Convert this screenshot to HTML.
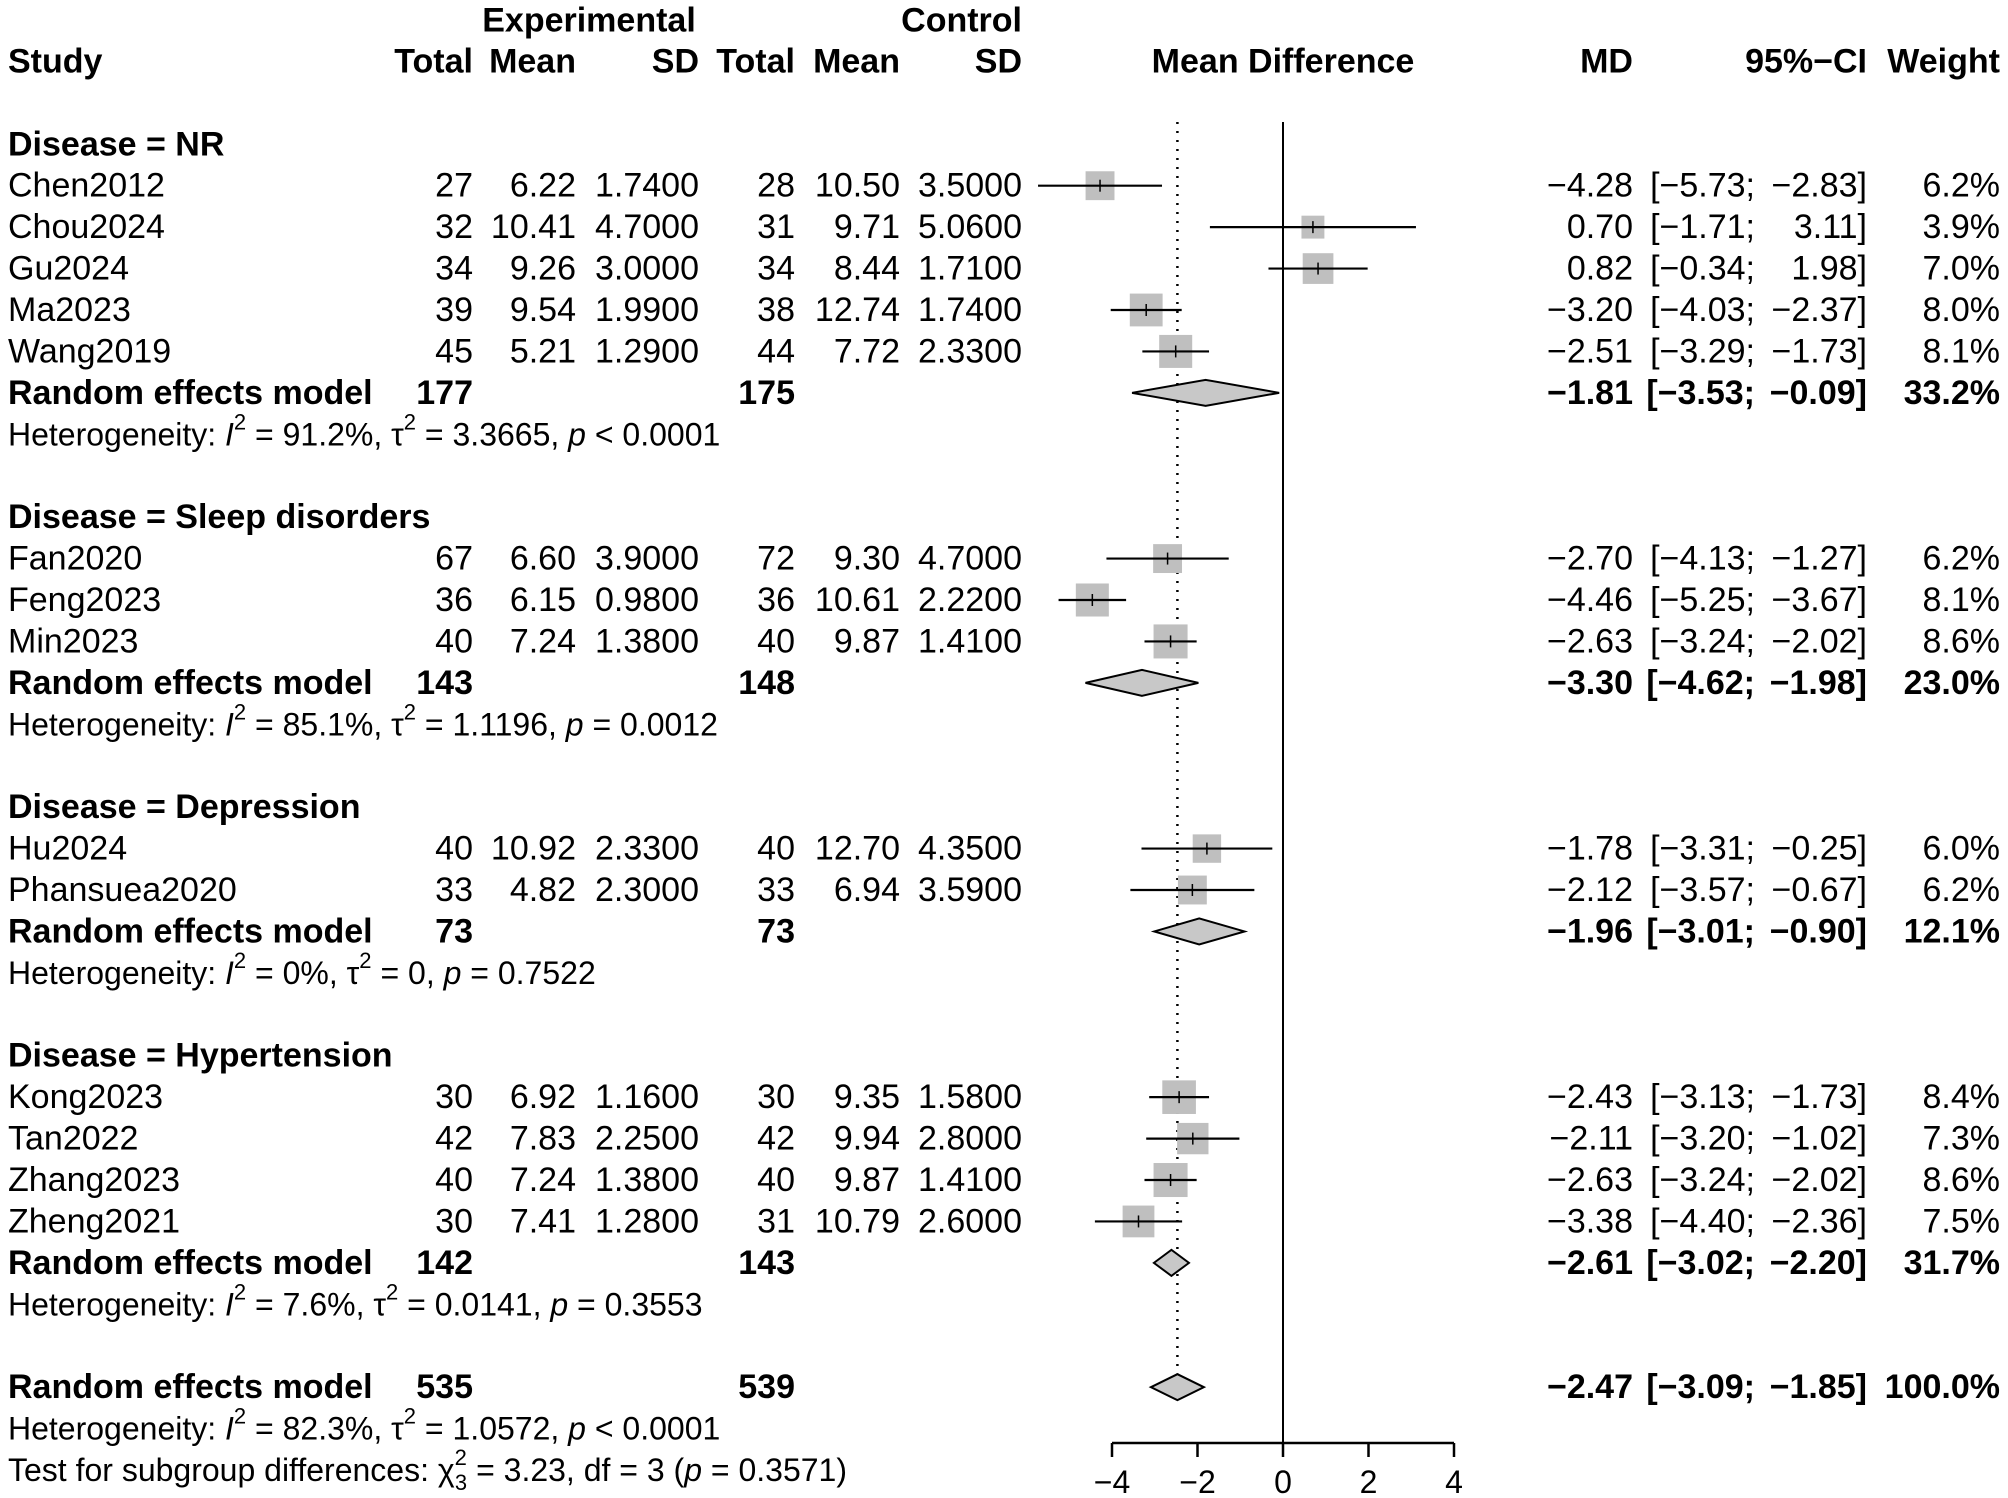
<!DOCTYPE html>
<html><head><meta charset="utf-8"><style>
html,body{margin:0;padding:0;background:#fff}
svg{display:block;font-family:"Liberation Sans",Arial,sans-serif}
</style></head><body>
<svg id="c" width="2008" height="1498" viewBox="0 0 2008 1498" xmlns="http://www.w3.org/2000/svg"></svg>
<script>
// ---- data ----
const studies = ["Chen2012","Chou2024","Gu2024","Ma2023","Wang2019","Fan2020","Feng2023","Min2023","Hu2024","Phansuea2020","Kong2023","Tan2022","Zhang2023","Zheng2021"];
const studyRow = [0,1,2,3,4,9,10,11,16,17,22,23,24,25];
const expTotal = [27,32,34,39,45,67,36,40,40,33,30,42,40,30];
const expMean = ["6.22","10.41","9.26","9.54","5.21","6.60","6.15","7.24","10.92","4.82","6.92","7.83","7.24","7.41"];
const expSD = ["1.7400","4.7000","3.0000","1.9900","1.2900","3.9000","0.9800","1.3800","2.3300","2.3000","1.1600","2.2500","1.3800","1.2800"];
const ctlTotal = [28,31,34,38,44,72,36,40,40,33,30,42,40,31];
const ctlMean = ["10.50","9.71","8.44","12.74","7.72","9.30","10.61","9.87","12.70","6.94","9.35","9.94","9.87","10.79"];
const ctlSD = ["3.5000","5.0600","1.7100","1.7400","2.3300","4.7000","2.2200","1.4100","4.3500","3.5900","1.5800","2.8000","1.4100","2.6000"];
const md = [-4.28,0.70,0.82,-3.20,-2.51,-2.70,-4.46,-2.63,-1.78,-2.12,-2.43,-2.11,-2.63,-3.38];
const lo = [-5.73,-1.71,-0.34,-4.03,-3.29,-4.13,-5.25,-3.24,-3.31,-3.57,-3.13,-3.20,-3.24,-4.40];
const hi = [-2.83,3.11,1.98,-2.37,-1.73,-1.27,-3.67,-2.02,-0.25,-0.67,-1.73,-1.02,-2.02,-2.36];
const weight = [6.2,3.9,7.0,8.0,8.1,6.2,8.1,8.6,6.0,6.2,8.4,7.3,8.6,7.5];

const groups = ["NR","Sleep disorders","Depression","Hypertension"];
const groupRow = [-1,8,15,21];
const remRow = [5,12,18,26,29];
const remExp = [177,143,73,142,535];
const remCtl = [175,148,73,143,539];
const remMd = [-1.81,-3.30,-1.96,-2.61,-2.47];
const remLo = [-3.53,-4.62,-3.01,-3.02,-3.09];
const remHi = [-0.09,-1.98,-0.90,-2.20,-1.85];
const remW = ["33.2%","23.0%","12.1%","31.7%","100.0%"];
const hetRow = [6,13,19,27,30];
const hetI2 = ["91.2%","85.1%","0%","7.6%","82.3%"];
const hetTau = ["3.3665","1.1196","0","0.0141","1.0572"];
const hetP = ["< 0.0001","= 0.0012","= 0.7522","= 0.3553","< 0.0001"];
const xTicks = [-4,-2,0,2,4];

// ---- layout ----
const svg = document.getElementById('c');
const NS = "http://www.w3.org/2000/svg";
const FS = 34;
const x0 = 1283, ux = 42.75;
const X = v => x0 + v*ux;
const Y = r => 185.7 + r*41.43;
const fmt = v => (v<0?"\u2212":"") + Math.abs(v).toFixed(2);

function el(tag, attrs){const e=document.createElementNS(NS,tag);for(const k in attrs)e.setAttribute(k,attrs[k]);svg.appendChild(e);return e;}
function txt(s,x,y,anchor,bold,name,size){
  const t=el('text',{x:x,y:y,'text-anchor':anchor||'start','dominant-baseline':'central','font-size':size||FS,'font-weight':bold?'bold':'normal',fill:'#000'});
  t.textContent=s;
  
  
  return t;
}
const cx = {tot1:473, mean1:576, sd1:699, tot2:795, mean2:900, sd2:1022, md:1633, ciL:1755, ciR:1867, w:2000};

// headers
txt("Experimental",589,20.5,'middle',true,'experimental-header');
txt("Control",1022,20.5,'end',true,'control-header');
const hy=61.5;
txt("Study",8,hy,'start',true,'study-header');
txt("Total",cx.tot1,hy,'end',true,'exp-total-header');
txt("Mean",cx.mean1,hy,'end',true,'exp-mean-header');
txt("SD",cx.sd1,hy,'end',true,'exp-sd-header');
txt("Total",cx.tot2,hy,'end',true,'ctl-total-header');
txt("Mean",cx.mean2,hy,'end',true,'ctl-mean-header');
txt("SD",cx.sd2,hy,'end',true,'ctl-sd-header');
txt("Mean Difference",1283,hy,'middle',true,'mean-difference-header');
txt("MD",cx.md,hy,'end',true,'md-header');
txt("95%\u2212CI",cx.ciR,hy,'end',true,'ci-header');
txt("Weight",cx.w,hy,'end',true,'weight-header');

// reference lines
const topY = 122;
const axY = 1443;
const zl = el('line',{x1:X(0),x2:X(0),y1:topY,y2:axY,stroke:'#000','stroke-width':2});


const dl = el('line',{x1:X(remMd[4]),x2:X(remMd[4]),y1:topY,y2:Y(29)-14,stroke:'#000','stroke-width':2.5,'stroke-dasharray':'2 7'});



// groups
groups.forEach((g,i)=>{
  txt("Disease = "+g,8,Y(groupRow[i]),'start',true,'subgroup-header');
});

// studies
studies.forEach((s,i)=>{
  const y=Y(studyRow[i]);
  txt(s,8,y,'start',false,'study-name');
  txt(String(expTotal[i]),cx.tot1,y,'end',false,'exp-total');
  txt(expMean[i],cx.mean1,y,'end',false,'exp-mean');
  txt(expSD[i],cx.sd1,y,'end',false,'exp-sd');
  txt(String(ctlTotal[i]),cx.tot2,y,'end',false,'ctl-total');
  txt(ctlMean[i],cx.mean2,y,'end',false,'ctl-mean');
  txt(ctlSD[i],cx.sd2,y,'end',false,'ctl-sd');
  txt(fmt(md[i]),cx.md,y,'end',false,'md-value');
  txt("["+fmt(lo[i])+";",cx.ciL,y,'end',false,'ci-lower');
  txt(fmt(hi[i])+"]",cx.ciR,y,'end',false,'ci-upper');
  txt(weight[i].toFixed(1)+"%",cx.w,y,'end',false,'weight-value');
  const sz=11.6*Math.sqrt(weight[i]);
  const b=el('rect',{x:X(md[i])-sz/2,y:y-sz/2,width:sz,height:sz,fill:'#bfbfbf'});
  
  
  const l=el('line',{x1:X(lo[i]),x2:X(hi[i]),y1:y,y2:y,stroke:'#000','stroke-width':2.2});
  
  
  const t=el('line',{x1:X(md[i]),x2:X(md[i]),y1:y-6,y2:y+6,stroke:'#000','stroke-width':1.5});
  
  
});

// random effects rows
remRow.forEach((r,i)=>{
  const y=Y(r);
  txt("Random effects model",8,y,'start',true,'random-effects-label');
  txt(String(remExp[i]),cx.tot1,y,'end',true,'rem-exp-total');
  txt(String(remCtl[i]),cx.tot2,y,'end',true,'rem-ctl-total');
  txt(fmt(remMd[i]),cx.md,y,'end',true,'rem-md');
  txt("["+fmt(remLo[i])+";",cx.ciL,y,'end',true,'rem-ci-lower');
  txt(fmt(remHi[i])+"]",cx.ciR,y,'end',true,'rem-ci-upper');
  txt(remW[i],cx.w,y,'end',true,'rem-weight');
  const h=13;
  const d=el('polygon',{points:`${X(remLo[i])},${y} ${X(remMd[i])},${y-h} ${X(remHi[i])},${y} ${X(remMd[i])},${y+h}`,fill:'#c8c8c8',stroke:'#000','stroke-width':2});
  
  
});

// heterogeneity
hetRow.forEach((r,i)=>{
  const t=txt("",8,Y(r),'start',false,'heterogeneity-text',32);
  t.innerHTML=`Heterogeneity: <tspan font-style="italic">I</tspan><tspan baseline-shift="super" font-size="22">2</tspan> = ${hetI2[i]}, \u03c4<tspan baseline-shift="super" font-size="22">2</tspan> = ${hetTau[i]}, <tspan font-style="italic">p</tspan> ${hetP[i]}`;
});
const tt=txt("",8,Y(31),'start',false,'subgroup-test-text',32);
tt.innerHTML=`Test for subgroup differences: \u03c7<tspan baseline-shift="super" font-size="22">2</tspan><tspan dx="-12" dy="12" font-size="22">3</tspan><tspan dy="-12"> = 3.23, df = 3 (</tspan><tspan font-style="italic">p</tspan> = 0.3571)`;

// x axis
const ax=el('line',{x1:X(xTicks[0]),x2:X(xTicks[xTicks.length-1]),y1:axY,y2:axY,stroke:'#000','stroke-width':2.5});


xTicks.forEach(v=>{
  const tk=el('line',{x1:X(v),x2:X(v),y1:axY,y2:axY+14,stroke:'#000','stroke-width':2.5});
  
  
  txt((v<0?"\u2212":"")+Math.abs(v),X(v),1482,'middle',false,'x-tick-label',32);
});
</script>
</body></html>
